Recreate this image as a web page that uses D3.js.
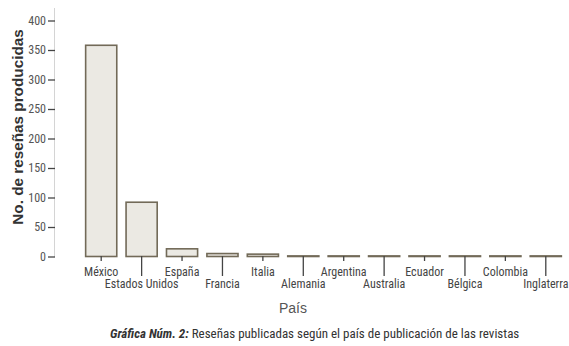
<!DOCTYPE html>
<html><head><meta charset="utf-8">
<script src="https://cdn.jsdelivr.net/npm/d3@7"></script>
<style>
body{margin:0;background:#fff;}
svg{display:block;}
.cond{font-family:"Liberation Sans Narrow","Arial Narrow","Roboto Condensed",sans-serif;}
</style></head>
<body><svg id="c" width="569" height="346"></svg>
<script>
const countries = ["México","Estados Unidos","España","Francia","Italia","Alemania","Argentina","Australia","Ecuador","Bélgica","Colombia","Inglaterra"];
const reviews = [358, 92, 13, 5, 4, 1, 1, 1, 1, 1, 1, 1];
const yTicks = [0,50,100,150,200,250,300,350,400];

const svg = d3.select("#c");
const x = d3.scaleBand().domain(countries).range([81, 566]).paddingInner(0.23).paddingOuter(0.115);
const y = d3.scaleLinear().domain([0,400]).range([256.5, 20.5]);

// y axis line
svg.append("line").attr("x1",54.5).attr("x2",54.5).attr("y1",8).attr("y2",257)
  .attr("stroke","#d4d4d4").attr("stroke-width",1);

const yAxis = svg.append("g").attr("transform","translate(55,0)")
  .call(d3.axisLeft(y).tickValues(yTicks).tickSize(7).tickPadding(2));
yAxis.select(".domain").remove();
yAxis.selectAll(".tick line").attr("stroke","#444").attr("stroke-width",1.3);
yAxis.selectAll(".tick text").attr("class","cond").attr("font-size",12).attr("fill","#555");

// bars
svg.append("g").selectAll("rect").data(countries).join("rect")
  .attr("x", d=>x(d)).attr("width", x.bandwidth())
  .attr("y", (d,i)=>y(reviews[i])).attr("height",(d,i)=>y(0)-y(reviews[i]))
  .attr("fill","#ebe9e3").attr("stroke","#726a58").attr("stroke-width",1.6);

// x axis ticks and labels
const xg = svg.append("g").attr("transform","translate(0,256)");
const ticks = xg.selectAll("g").data(countries).join("g")
  .attr("transform", d=>`translate(${x(d)+x.bandwidth()/2},0)`);
ticks.append("line").attr("y1",0).attr("y2",(d,i)=>i%2===0?5:20)
  .attr("stroke","#444").attr("stroke-width",1.3);
ticks.append("text").attr("class","cond").attr("text-anchor","middle")
  .attr("y",(d,i)=>i%2===0?20:32).attr("font-size",12).attr("fill","#444")
  .text(d=>d);

// axis titles
svg.append("text").attr("x",293).attr("y",313).attr("text-anchor","middle")
  .attr("font-family","Liberation Sans, Arial, sans-serif").attr("font-size",14).attr("fill","#555").text("País");
svg.append("text").attr("transform","translate(23,127) rotate(-90)").attr("text-anchor","middle")
  .attr("font-family","Liberation Sans, Arial, sans-serif").attr("font-weight","bold").attr("font-size",15.3)
  .attr("fill","#333").text("No. de reseñas producidas");

// caption
const cap = svg.append("text").attr("class","cond").attr("x",110).attr("y",338).attr("font-size",13).attr("fill","#333");
cap.append("tspan").attr("font-weight","bold").attr("font-style","italic").text("Gráfica Núm. 2:");
cap.append("tspan").text(" Reseñas publicadas según el país de publicación de las revistas");
</script></body></html>
